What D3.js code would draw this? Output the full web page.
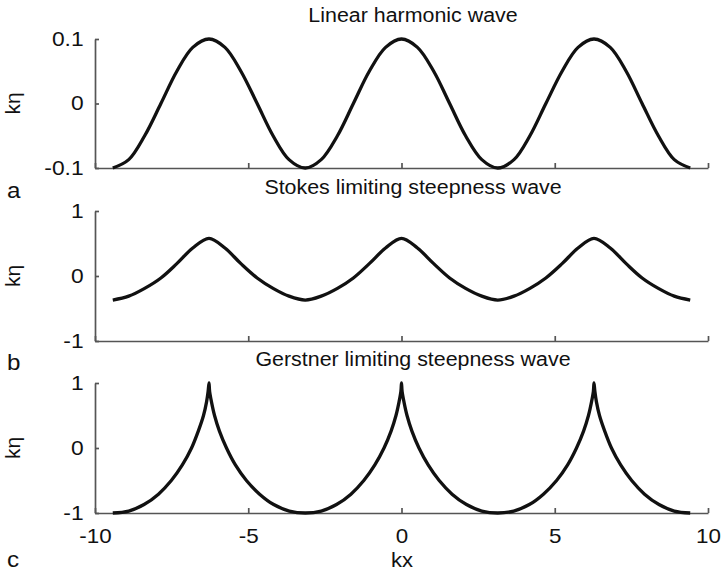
<!DOCTYPE html>
<html lang="en">
<head>
<meta charset="utf-8">
<title>Wave profiles</title>
<script src="https://d3js.org/d3.v7.min.js"></script>
<style>
  body { margin: 0; background: #fff; }
  text { font-family: Arial, "Liberation Sans", sans-serif; fill: #111; }
  .axis path, .axis line { stroke: #555; stroke-width: 1.7; }
  .wave { fill: none; stroke: #111; stroke-width: 3.3; stroke-linejoin: round; }
</style>
</head>
<body>
<script>
// kx grid used by the linear and Stokes panels (read at steps of about pi/6)
const kxGrid = [-9.42, -8.90, -8.38, -7.85, -7.33, -6.81, -6.28, -5.76, -5.24, -4.71, -4.19, -3.67,
  -3.14, -2.62, -2.09, -1.57, -1.05, -0.52, 0, 0.52, 1.05, 1.57, 2.09, 2.62,
  3.14, 3.67, 4.19, 4.71, 5.24, 5.76, 6.28, 6.81, 7.33, 7.85, 8.38, 8.90, 9.42];

const linearEta = [-0.1, -0.087, -0.05, 0, 0.05, 0.087, 0.1, 0.087, 0.05, 0, -0.05, -0.087,
  -0.1, -0.087, -0.05, 0, 0.05, 0.087, 0.1, 0.087, 0.05, 0, -0.05, -0.087,
  -0.1, -0.087, -0.05, 0, 0.05, 0.087, 0.1, 0.087, 0.05, 0, -0.05, -0.087, -0.1];

const stokesEta = [-0.37, -0.31, -0.19, -0.03, 0.19, 0.43, 0.58, 0.43, 0.19, -0.03, -0.19, -0.31,
  -0.37, -0.31, -0.19, -0.03, 0.19, 0.43, 0.58, 0.43, 0.19, -0.03, -0.19, -0.31,
  -0.37, -0.31, -0.19, -0.03, 0.19, 0.43, 0.58, 0.43, 0.19, -0.03, -0.19, -0.31, -0.37];

// Gerstner (trochoid) points, x is not evenly spaced because of the cusps
const gerstnerKx = [-9.42, -8.90, -8.40, -7.93, -7.51, -7.15, -6.85, -6.63, -6.46, -6.36, -6.31, -6.28,
  -6.26, -6.20, -6.10, -5.94, -5.71, -5.42, -5.06, -4.63, -4.17, -3.66,
  -3.14, -2.62, -2.12, -1.65, -1.23, -0.87, -0.57, -0.34, -0.18, -0.08, -0.02, 0,
  0.02, 0.08, 0.18, 0.34, 0.57, 0.87, 1.23, 1.65, 2.12, 2.62,
  3.14, 3.66, 4.17, 4.63, 5.06, 5.42, 5.71, 5.94, 6.10, 6.20, 6.26, 6.28,
  6.31, 6.36, 6.46, 6.63, 6.85, 7.15, 7.51, 7.93, 8.40, 8.90, 9.42];
const gerstnerEta = [-1, -0.97, -0.87, -0.71, -0.5, -0.26, 0, 0.26, 0.5, 0.71, 0.87, 1,
  0.87, 0.71, 0.5, 0.26, 0, -0.26, -0.5, -0.71, -0.87, -0.97,
  -1, -0.97, -0.87, -0.71, -0.5, -0.26, 0, 0.26, 0.5, 0.71, 0.87, 1,
  0.87, 0.71, 0.5, 0.26, 0, -0.26, -0.5, -0.71, -0.87, -0.97,
  -1, -0.97, -0.87, -0.71, -0.5, -0.26, 0, 0.26, 0.5, 0.71, 0.87, 1,
  0.87, 0.71, 0.5, 0.26, 0, -0.26, -0.5, -0.71, -0.87, -0.97, -1];

const titles = ["Linear harmonic wave", "Stokes limiting steepness wave", "Gerstner limiting steepness wave"];
const letters = ["a", "b", "c"];
const yTicks = [[-0.1, 0, 0.1], [-1, 0, 1], [-1, 0, 1]];
const xTicks = [-10, -5, 0, 5, 10];

const W = 723, H = 575;

const panels = [
  { top: 39, bottom: 168, dom: [-0.1, 0.1], xs: kxGrid, ys: linearEta, letterY: 198 },
  { top: 211, bottom: 341, dom: [-1, 1], xs: kxGrid, ys: stokesEta, letterY: 370 },
  { top: 383, bottom: 513, dom: [-1, 1], xs: gerstnerKx, ys: gerstnerEta, letterY: 567 }
];

const svg = d3.select("body").append("svg")
  .attr("width", W)
  .attr("height", H);

const x = d3.scaleLinear().domain([-10, 10]).range([95, 708]);

// glyphs in the picture are a bit wider than tall, hence the x scale
function label(x0, y0, str, anchor, size, sx, rot) {
  return svg.append("text")
    .attr("transform", "translate(" + x0 + "," + y0 + ")" + (rot ? " rotate(" + rot + ")" : "") + " scale(" + sx + ",1)")
    .attr("text-anchor", anchor)
    .attr("font-size", size + "px")
    .text(str);
}

panels.forEach((p, i) => {
  const y = d3.scaleLinear().domain(p.dom).range([p.bottom, p.top]);

  // bottom axis, ticks pointing inwards
  const gx = svg.append("g")
    .attr("class", "axis")
    .attr("transform", "translate(0," + p.bottom + ")")
    .call(d3.axisBottom(x).tickValues(xTicks).tickSizeInner(-5).tickSizeOuter(0).tickPadding(16).tickFormat(d => String(d)));
  if (i < 2) gx.selectAll("text").remove();
  else gx.selectAll("text").attr("font-size", "20px").attr("fill", "#111").attr("transform", "scale(1.12,1)");

  // left axis
  svg.append("g")
    .attr("class", "axis")
    .attr("transform", "translate(" + x(-10) + ",0)")
    .call(d3.axisLeft(y).tickValues(yTicks[i]).tickSizeInner(-4).tickSizeOuter(0).tickPadding(10).tickFormat(d => String(d)))
    .selectAll("text")
    .attr("font-size", "20px")
    .attr("fill", "#111")
    .attr("transform", "scale(1.14,1)");

  // wave
  const pts = p.xs.map((v, j) => [v, p.ys[j]]);
  svg.append("path")
    .datum(pts)
    .attr("class", "wave")
    .attr("d", d3.line().x(d => x(d[0])).y(d => y(d[1])).curve(d3.curveCatmullRom));

  // texts
  label(413, p.top - 17, titles[i], "middle", 20, 1.07);
  label(20, y(0), "k\u03b7", "middle", 20, 1.05, -90);
  label(7, p.letterY, letters[i], "start", 22, 1.1);
});

label(402, 567, "kx", "middle", 20, 1.1);
</script>
</body>
</html>
